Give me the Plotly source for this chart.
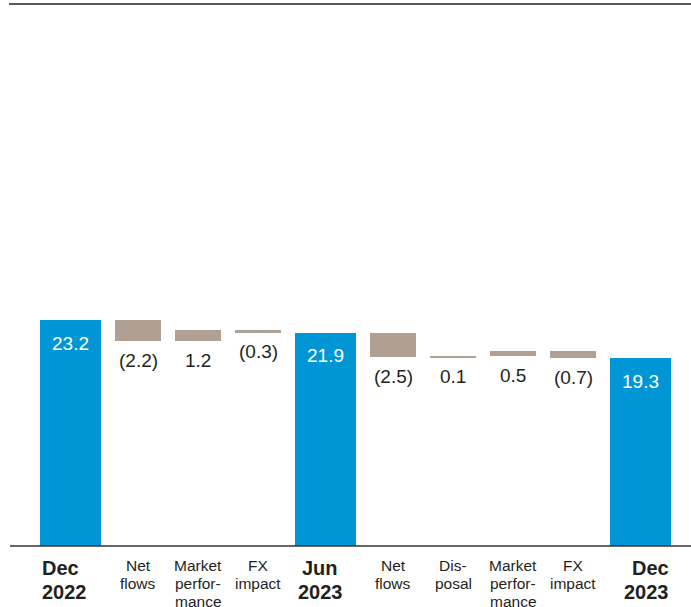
import plotly.graph_objects as go

# ---- data ----
categories = ["Dec<br>2022", "Net<br>flows", "Market<br>perfor-<br>mance", "FX<br>impact",
              "Jun<br>2023", "Net<br>flows", "Dis-<br>posal", "Market<br>perfor-<br>mance",
              "FX<br>impact", "Dec<br>2023"]
kinds = ["total", "delta", "delta", "delta", "total", "delta", "delta", "delta", "delta", "total"]
values = [23.2, -2.2, 1.2, -0.3, 21.9, -2.5, 0.1, 0.5, -0.7, 19.3]
value_labels = ["23.2", "(2.2)", "1.2", "(0.3)", "21.9", "(2.5)", "0.1", "0.5", "(0.7)", "19.3"]

# ---- style ----
BLUE = "#0096D6"
TAN = "#B0A093"
TEXT = "#231F20"
FONT = "Liberation Sans, Arial, Helvetica, sans-serif"
slot = {"total": 1.25, "delta": 1.0}
bar_w = {"total": 1.017, "delta": 0.767}

# compute positions and bases
xs, bases, heights, widths, colors = [], [], [], [], []
cursor = 0.0
running = 0.0
for k, v in zip(kinds, values):
    xs.append(cursor + slot[k] / 2)
    cursor += slot[k]
    widths.append(bar_w[k])
    if k == "total":
        bases.append(0)
        heights.append(v)
        running = v
        colors.append(BLUE)
    else:
        new = running + v
        bases.append(min(running, new))
        heights.append(abs(v))
        running = new
        colors.append(TAN)

fig = go.Figure()
fig.add_trace(go.Bar(x=xs, y=heights, base=bases, width=widths,
                     marker=dict(color=colors, line=dict(width=0)),
                     hoverinfo="skip"))

ann = []
for i, (k, lab) in enumerate(zip(kinds, value_labels)):
    if k == "total":
        ann.append(dict(x=xs[i], y=bases[i] + heights[i], text=lab, showarrow=False,
                        xanchor="center", yanchor="middle", yshift=-23,
                        font=dict(family=FONT, size=19, color="white")))
    else:
        ann.append(dict(x=xs[i], y=bases[i], text=lab, showarrow=False,
                        xanchor="center", yanchor="middle", yshift=-19,
                        font=dict(family=FONT, size=19, color=TEXT)))

# category labels (each line placed separately)
n = len(categories)
for i, (k, cat) in enumerate(zip(kinds, categories)):
    lines = cat.split("<br>")
    if k == "total":
        if i == 0:
            xa, xv = "left", xs[i] - widths[i] / 2
        elif i == n - 1:
            xa, xv = "right", xs[i] + widths[i] / 2
        else:
            xa, xv = "center", xs[i] - 0.09
        for j, ln in enumerate(lines):
            ann.append(dict(x=xv, y=0, yref="y", text="<b>" + ln + "</b>", showarrow=False,
                            xanchor=xa, yanchor="middle", yshift=-(21.5 + 24 * j),
                            font=dict(family=FONT, size=20, color=TEXT)))
    else:
        for j, ln in enumerate(lines):
            ann.append(dict(x=xs[i], y=0, yref="y", text=ln, showarrow=False,
                            xanchor="center", yanchor="middle", yshift=-(19.5 + 18 * j),
                            font=dict(family=FONT, size=15.5, color=TEXT)))

shapes = [
    dict(type="line", xref="paper", yref="paper", x0=2 / 684, x1=1, y0=1, y1=1,
         line=dict(color="#222222", width=1.6)),
    dict(type="line", xref="paper", yref="paper", x0=3 / 684, x1=1, y0=0, y1=0,
         line=dict(color="#333333", width=1.5)),
]

fig.update_layout(
    width=691, height=607,
    margin=dict(l=7, r=0, t=4, b=61),
    paper_bgcolor="white", plot_bgcolor="white",
    showlegend=False,
    bargap=0,
    xaxis=dict(range=[-26 / 60, 658 / 60], showgrid=False, zeroline=False,
               showticklabels=False, showline=False, fixedrange=True),
    yaxis=dict(range=[0, 542 / 9.74], showgrid=False, zeroline=False,
               showticklabels=False, showline=False, fixedrange=True),
    annotations=ann,
    shapes=shapes,
)

fig.write_html("out.html", config={"displayModeBar": False},
               post_script="document.body.style.margin='0';document.body.style.overflow='hidden';")
